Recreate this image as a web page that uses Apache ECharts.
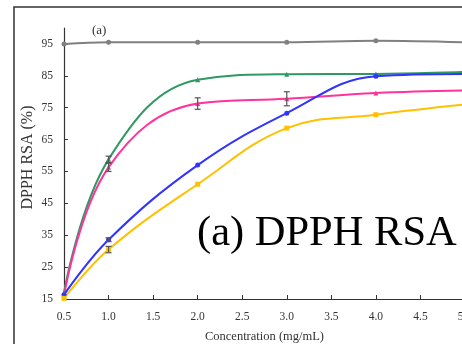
<!DOCTYPE html>
<html>
<head>
<meta charset="utf-8">
<script src="https://cdn.jsdelivr.net/npm/echarts@6/dist/echarts.min.js"></script>
<style>
  html, body { margin: 0; padding: 0; background: #fff; }
  #chart { width: 462px; height: 344px; }
</style>
</head>
<body>
<div id="chart"></div>
<script>
// concentrations (mg/mL)
const conc = [0.5, 1.0, 2.0, 3.0, 4.0, 5.0];

// DPPH RSA (%) per sample
const greyVals   = [95.0, 95.5, 95.5, 95.5, 96.0, 95.5];
const greenVals  = [17.0, 58.8, 83.8, 85.5, 85.6, 86.2];
const pinkVals   = [16.0, 56.3, 76.3, 77.8, 79.6, 80.4];
const blueVals   = [16.3, 33.6, 57.0, 73.3, 84.9, 85.6];
const yellowVals = [15.2, 30.5, 51.0, 68.6, 72.8, 76.0];

// error bar half-widths (null = none drawn)
const greenErr  = [null, 1.0, null, null, null, null];
const pinkErr   = [null, 1.3, 1.8, 2.2, null, null];
const blueErr   = [null, 0.6, null, null, null, null];
const yellowErr = [null, 1.0, null, null, null, null];

const xTicks = [0.5, 1.0, 1.5, 2.0, 2.5, 3.0, 3.5, 4.0, 4.5, 5.0];
const yTicks = [15, 25, 35, 45, 55, 65, 75, 85, 95];

const pairs = (vals) => conc.map((c, i) => [c, vals[i]]);
const errPairs = (vals, errs) =>
  conc.map((c, i) => [c, vals[i], errs[i]]).filter((d) => d[2] != null);

const serif = '"Liberation Serif", "DejaVu Serif", serif';
const axisColor = '#333';

function lineSeries(name, vals, color, symbol) {
  return {
    name,
    type: 'line',
    smooth: 0.4,
    symbol,
    symbolSize: 5,
    lineStyle: { width: 2, color },
    itemStyle: { color },
    data: pairs(vals),
    z: 3,
  };
}

function errSeries(vals, errs) {
  return {
    type: 'custom',
    z: 5,
    data: errPairs(vals, errs),
    renderItem: (params, api) => {
      const x = api.value(0);
      const top = api.coord([x, api.value(1) + api.value(2)]);
      const bot = api.coord([x, api.value(1) - api.value(2)]);
      const style = { stroke: '#555', lineWidth: 1.2 };
      const w = 3;
      return {
        type: 'group',
        children: [
          { type: 'line', shape: { x1: top[0], y1: top[1], x2: bot[0], y2: bot[1] }, style },
          { type: 'line', shape: { x1: top[0] - w, y1: top[1], x2: top[0] + w, y2: top[1] }, style },
          { type: 'line', shape: { x1: bot[0] - w, y1: bot[1], x2: bot[0] + w, y2: bot[1] }, style },
        ],
      };
    },
  };
}

const chart = echarts.init(document.getElementById('chart'), null, { renderer: 'canvas' });

chart.setOption({
  animation: false,
  backgroundColor: '#fff',
  grid: { left: 64, right: -3, top: 28, bottom: 45, outerBoundsMode: 'none', containLabel: false },
  xAxis: {
    type: 'value',
    min: 0.5,
    max: 5,
    interval: 0.5,
    name: 'Concentration (mg/mL)',
    nameLocation: 'middle',
    nameGap: 31,
    nameTextStyle: { fontFamily: serif, fontSize: 12.5, color: axisColor },
    axisLine: { lineStyle: { color: axisColor, width: 1.2 } },
    axisTick: { inside: true, length: 4, lineStyle: { color: axisColor }, customValues: xTicks },
    axisLabel: {
      fontFamily: serif, fontSize: 11.5, color: axisColor, margin: 12,
      customValues: xTicks,
      formatter: (v) => v.toFixed(1),
    },
    splitLine: { show: false },
  },
  yAxis: {
    type: 'value',
    min: 15,
    max: 100,
    interval: 10,
    name: 'DPPH RSA (%)',
    nameLocation: 'middle',
    nameGap: 28,
    nameMoveOverlap: false,
    nameTextStyle: { fontFamily: serif, fontSize: 16, color: axisColor, padding: [0, 0, 0, 12] },
    axisLine: { show: true, lineStyle: { color: axisColor, width: 1.2 } },
    axisTick: { show: true, inside: true, length: 4, lineStyle: { color: axisColor }, customValues: yTicks },
    axisLabel: { fontFamily: serif, fontSize: 11.5, color: axisColor, margin: 11, customValues: yTicks },
    splitLine: { show: false },
  },
  graphic: [
    {
      type: 'rect',
      shape: { x: 14, y: 7, width: 520, height: 420 },
      style: { fill: null, stroke: '#333', lineWidth: 1.5 },
      silent: true,
    },
    {
      type: 'text',
      left: 92,
      top: 24,
      style: { text: '(a)', font: '13px ' + serif, fill: '#333' },
    },
    {
      type: 'text',
      left: 197,
      top: 212,
      style: { text: '(a) DPPH RSA', font: '42.5px ' + serif, fill: '#000' },
      z: 10,
    },
  ],
  series: [
    lineSeries('grey', greyVals, '#808080', 'circle'),
    lineSeries('green', greenVals, '#2e9963', 'triangle'),
    lineSeries('pink', pinkVals, '#ff3399', 'triangle'),
    lineSeries('blue', blueVals, '#3333ff', 'circle'),
    lineSeries('yellow', yellowVals, '#ffc000', 'rect'),
    errSeries(greenVals, greenErr),
    errSeries(pinkVals, pinkErr),
    errSeries(blueVals, blueErr),
    errSeries(yellowVals, yellowErr),
  ],
});
</script>
</body>
</html>
